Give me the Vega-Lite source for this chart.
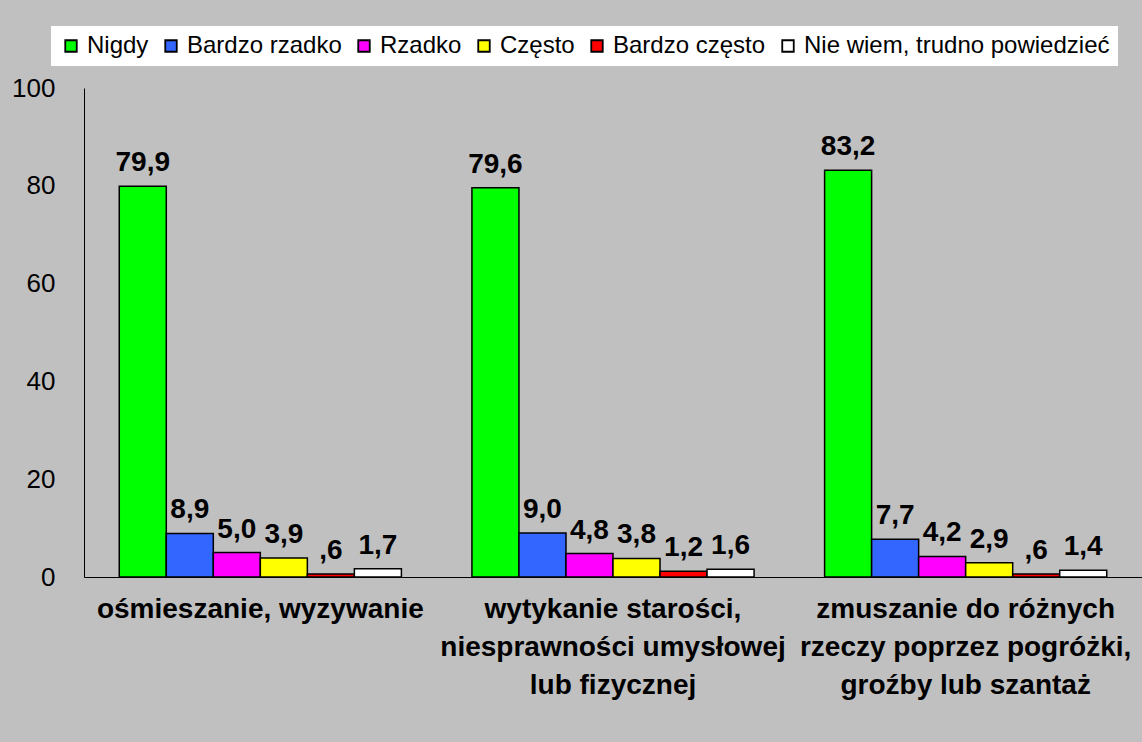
{
  "$schema": "https://vega.github.io/schema/vega-lite/v6.json",
  "autosize": {"type": "none"},
  "width": 1058,
  "height": 489,
  "padding": {"left": 84, "top": 88, "right": 0, "bottom": 165},
  "background": "#C0C0C0",
  "config": {
    "view": {"stroke": null},
    "font": "Liberation Sans",
    "legend": {
      "orient": "none",
      "legendX": -33,
      "legendY": -62,
      "direction": "horizontal",
      "columns": 6,
      "fillColor": "white",
      "padding": 8,
      "labelFont": "Liberation Sans",
      "labelFontSize": 24,
      "labelColor": "black",
      "labelOffset": 4,
      "labelLimit": 0,
      "columnPadding": 10,
      "symbolType": "square",
      "symbolSize": 132,
      "symbolStrokeColor": "black",
      "symbolStrokeWidth": 1.8,
      "symbolOpacity": 1
    }
  },
  "data": {
    "values": [
      {"cat": "ośmieszanie, wyzywanie", "resp": "Nigdy", "value": 79.9, "label": "79,9"},
      {"cat": "ośmieszanie, wyzywanie", "resp": "Bardzo rzadko", "value": 8.9, "label": "8,9"},
      {"cat": "ośmieszanie, wyzywanie", "resp": "Rzadko", "value": 5.0, "label": "5,0"},
      {"cat": "ośmieszanie, wyzywanie", "resp": "Często", "value": 3.9, "label": "3,9"},
      {"cat": "ośmieszanie, wyzywanie", "resp": "Bardzo często", "value": 0.6, "label": ",6"},
      {"cat": "ośmieszanie, wyzywanie", "resp": "Nie wiem, trudno powiedzieć", "value": 1.7, "label": "1,7"},
      {"cat": "wytykanie starości, niesprawności umysłowej lub fizycznej", "resp": "Nigdy", "value": 79.6, "label": "79,6"},
      {"cat": "wytykanie starości, niesprawności umysłowej lub fizycznej", "resp": "Bardzo rzadko", "value": 9.0, "label": "9,0"},
      {"cat": "wytykanie starości, niesprawności umysłowej lub fizycznej", "resp": "Rzadko", "value": 4.8, "label": "4,8"},
      {"cat": "wytykanie starości, niesprawności umysłowej lub fizycznej", "resp": "Często", "value": 3.8, "label": "3,8"},
      {"cat": "wytykanie starości, niesprawności umysłowej lub fizycznej", "resp": "Bardzo często", "value": 1.2, "label": "1,2"},
      {"cat": "wytykanie starości, niesprawności umysłowej lub fizycznej", "resp": "Nie wiem, trudno powiedzieć", "value": 1.6, "label": "1,6"},
      {"cat": "zmuszanie do różnych rzeczy poprzez pogróżki, groźby lub szantaż", "resp": "Nigdy", "value": 83.2, "label": "83,2"},
      {"cat": "zmuszanie do różnych rzeczy poprzez pogróżki, groźby lub szantaż", "resp": "Bardzo rzadko", "value": 7.7, "label": "7,7"},
      {"cat": "zmuszanie do różnych rzeczy poprzez pogróżki, groźby lub szantaż", "resp": "Rzadko", "value": 4.2, "label": "4,2"},
      {"cat": "zmuszanie do różnych rzeczy poprzez pogróżki, groźby lub szantaż", "resp": "Często", "value": 2.9, "label": "2,9"},
      {"cat": "zmuszanie do różnych rzeczy poprzez pogróżki, groźby lub szantaż", "resp": "Bardzo często", "value": 0.6, "label": ",6"},
      {"cat": "zmuszanie do różnych rzeczy poprzez pogróżki, groźby lub szantaż", "resp": "Nie wiem, trudno powiedzieć", "value": 1.4, "label": "1,4"}
    ]
  },
  "encoding": {
    "x": {
      "field": "cat",
      "type": "nominal",
      "sort": null,
      "scale": {"paddingInner": 0.2, "paddingOuter": 0.1},
      "axis": {
        "title": null,
        "labelAngle": 0,
        "ticks": false,
        "domainColor": "black",
        "domainWidth": 1,
        "labelFont": "Liberation Sans",
        "labelFontSize": 28,
        "labelFontWeight": "bold",
        "labelColor": "black",
        "labelPadding": 18,
        "labelLineHeight": 38,
        "labelLimit": 0,
        "labelOverlap": false,
        "labelExpr": "datum.value == 'wytykanie starości, niesprawności umysłowej lub fizycznej' ? ['wytykanie starości,', 'niesprawności umysłowej', 'lub fizycznej'] : datum.value == 'zmuszanie do różnych rzeczy poprzez pogróżki, groźby lub szantaż' ? ['zmuszanie do różnych', 'rzeczy poprzez pogróżki,', 'groźby lub szantaż'] : datum.value"
      }
    },
    "xOffset": {
      "field": "resp",
      "type": "nominal",
      "sort": ["Nigdy", "Bardzo rzadko", "Rzadko", "Często", "Bardzo często", "Nie wiem, trudno powiedzieć"],
      "scale": {"paddingInner": 0, "paddingOuter": 0}
    },
    "y": {
      "field": "value",
      "type": "quantitative",
      "scale": {"domain": [0, 100], "nice": false, "zero": true},
      "axis": {
        "title": null,
        "values": [0, 20, 40, 60, 80, 100],
        "grid": false,
        "ticks": false,
        "domainColor": "black",
        "domainWidth": 1,
        "labelFont": "Liberation Sans",
        "labelFontSize": 26,
        "labelColor": "black",
        "labelPadding": 29,
        "labelBound": false,
        "labelFlush": false
      }
    }
  },
  "layer": [
    {
      "mark": {"type": "bar", "stroke": "black", "strokeWidth": 1.5, "opacity": 1},
      "encoding": {
        "color": {
          "field": "resp",
          "type": "nominal",
          "title": null,
          "scale": {
            "domain": ["Nigdy", "Bardzo rzadko", "Rzadko", "Często", "Bardzo często", "Nie wiem, trudno powiedzieć"],
            "range": ["#00FF00", "#3366FF", "#FF00FF", "#FFFF00", "#FF0000", "#FFFFFF"]
          }
        }
      }
    },
    {
      "mark": {
        "type": "text",
        "font": "Liberation Sans",
        "fontSize": 28,
        "fontWeight": "bold",
        "color": "black",
        "baseline": "alphabetic",
        "align": "center",
        "dy": -15
      },
      "encoding": {
        "text": {"field": "label"}
      }
    }
  ]
}
